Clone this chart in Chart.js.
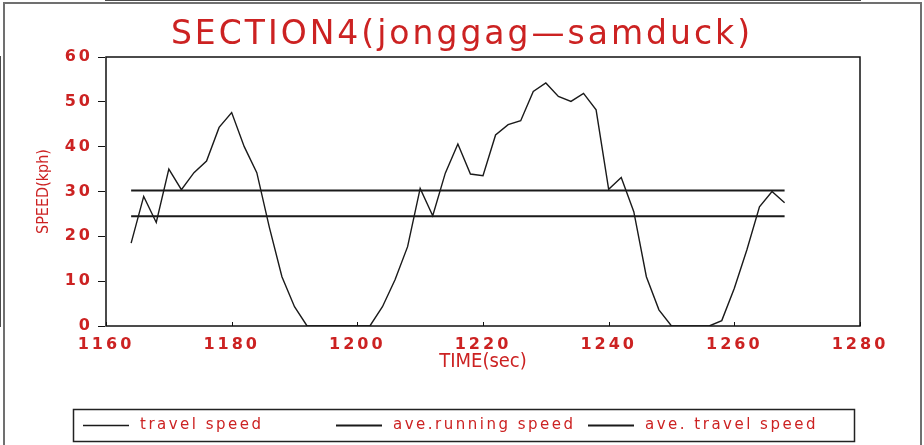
<!DOCTYPE html>
<html>
<head>
<meta charset="utf-8">
<script src="https://cdn.jsdelivr.net/npm/chart.js@4.4.0/dist/chart.umd.min.js"></script>
<style>
  html, body { margin: 0; padding: 0; background: #fff; overflow: hidden; }
  #wrap { width: 924px; height: 445px; position: relative; }
  #frame {
    position: absolute; left: 3px; top: 2px; width: 915px; height: 460px;
    border: 2px solid #707070; pointer-events: none;
  }
</style>
</head>
<body>
<div id="wrap"><canvas id="chart"></canvas><div id="frame"></div></div>
<script>
// --- Data ---
const TIMES = [1164, 1166, 1168, 1170, 1172, 1174, 1176, 1178, 1180, 1182, 1184, 1186, 1188, 1190,
    1192, 1194, 1196, 1198, 1200, 1202, 1204, 1206, 1208, 1210, 1212, 1214, 1216, 1218, 1220, 1222,
    1224, 1226, 1228, 1230, 1232, 1234, 1236, 1238, 1240, 1242, 1244, 1246, 1248, 1250, 1252, 1254,
    1256, 1258, 1260, 1262, 1264, 1266, 1268];
const TRAVEL_SPEED = [18.5, 28.9, 23.1, 35.0, 30.4, 34.2, 36.8, 44.3, 47.6, 40.0, 34.2, 22.0, 11.0, 4.3,
    0, 0, 0, 0, 0, 0, 4.3, 10.3, 17.7, 30.7, 24.6, 34.1, 40.6, 33.9, 33.5, 42.6,
    44.9, 45.8, 52.3, 54.2, 51.2, 50.1, 51.9, 48.2, 30.5, 33.1, 25.5, 11.0, 3.6, 0, 0, 0,
    0, 1.2, 8.4, 17.0, 26.6, 30.0, 27.5];
const AVG_SPAN = [1164, 1268];
const AVE_RUNNING_SPEED = 30.2;
const AVE_TRAVEL_SPEED = 24.5;
const SERIES_LABELS = ['travel speed', 'ave.running speed', 'ave. travel speed'];
const X_RANGE = [1160, 1280];
const Y_RANGE = [0, 60];

const RED = '#cc2222';
const INK = '#1a1a1a';

// letter spacing: wide for ticks/title, none for axis titles (drawn after datasets)
const spacingPlugin = {
    id: 'spacing',
    beforeDraw(chart) { chart.ctx.letterSpacing = '3px'; },
    afterDatasetsDraw(chart) { chart.ctx.letterSpacing = '0px'; }
};

// plot box, inward x ticks and boxed legend
const framePlugin = {
    id: 'frame',
    afterDraw(chart) {
        const ctx = chart.ctx;
        const a = chart.chartArea;
        ctx.save();
        ctx.letterSpacing = '0px';
        ctx.strokeStyle = '#111';
        ctx.lineWidth = 1.5;
        ctx.strokeRect(a.left, a.top, a.right - a.left, a.bottom - a.top);
        const xs = chart.scales.x;
        ctx.lineWidth = 1;
        xs.ticks.forEach(t => {
            const px = Math.round(xs.getPixelForValue(t.value)) + 0.5;
            ctx.beginPath();
            ctx.moveTo(px, a.bottom);
            ctx.lineTo(px, a.bottom - 4);
            ctx.stroke();
        });
        // legend box
        const box = { left: 73, top: 409, right: 854, bottom: 441 };
        ctx.strokeStyle = '#222';
        ctx.lineWidth = 1.5;
        ctx.strokeRect(box.left + 0.5, box.top + 0.5, box.right - box.left, box.bottom - box.top);
        const cols = [10, 263, 515];
        const cy = (box.top + box.bottom) / 2 + 0.5;
        ctx.font = '15px "DejaVu Sans"';
        ctx.letterSpacing = '2.5px';
        ctx.textBaseline = 'middle';
        ctx.textAlign = 'left';
        chart.data.datasets.forEach((ds, i) => {
            const x0 = box.left + cols[i];
            ctx.strokeStyle = ds.borderColor;
            ctx.lineWidth = ds.borderWidth;
            ctx.beginPath();
            ctx.moveTo(x0, cy);
            ctx.lineTo(x0 + 46, cy);
            ctx.stroke();
            ctx.fillStyle = RED;
            ctx.fillText(ds.label, x0 + 57, cy);
        });
        ctx.restore();
    }
};

const travelPoints = TIMES.map((t, i) => ({ x: t, y: TRAVEL_SPEED[i] }));
const runningPoints = AVG_SPAN.map(t => ({ x: t, y: AVE_RUNNING_SPEED }));
const avgTravelPoints = AVG_SPAN.map(t => ({ x: t, y: AVE_TRAVEL_SPEED }));

new Chart(document.getElementById('chart'), {
    type: 'line',
    data: {
        datasets: [
            { label: SERIES_LABELS[0], data: travelPoints, borderColor: INK, borderWidth: 1.4, pointRadius: 0, tension: 0 },
            { label: SERIES_LABELS[1], data: runningPoints, borderColor: INK, borderWidth: 2, pointRadius: 0 },
            { label: SERIES_LABELS[2], data: avgTravelPoints, borderColor: INK, borderWidth: 2, pointRadius: 0 }
        ]
    },
    options: {
        responsive: true,
        maintainAspectRatio: false,
        animation: false,
        layout: { padding: { top: 0, left: 0, right: 0, bottom: 69 } },
        plugins: {
            legend: { display: false },
            tooltip: { enabled: false },
            title: {
                display: true,
                text: 'SECTION4(jonggag—samduck)',
                color: RED,
                font: { family: 'DejaVu Sans', size: 33, weight: 'normal' },
                padding: { top: 16, bottom: 1.4 }
            }
        },
        scales: {
            x: {
                type: 'linear',
                min: X_RANGE[0],
                max: X_RANGE[1],
                afterFit: s => { s.height = 50; },
                grid: { display: false, z: 1 },
                border: { display: true, color: '#111', width: 1.5 },
                ticks: {
                    stepSize: 20,
                    color: RED,
                    padding: 1,
                    maxRotation: 0,
                    font: { family: 'DejaVu Sans', size: 16, weight: 'bold' },
                    callback: v => String(v)
                },
                title: {
                    display: true,
                    text: 'TIME(sec)',
                    color: RED,
                    font: { family: 'DejaVu Sans Condensed', size: 20 },
                    padding: { top: 0, bottom: 2 }
                }
            },
            y: {
                min: Y_RANGE[0],
                max: Y_RANGE[1],
                afterFit: s => { s.width = 106; },
                grid: { display: true, drawOnChartArea: false, drawTicks: true, tickLength: 8, color: '#111', z: 1 },
                border: { display: true, color: '#111', width: 1.5 },
                ticks: {
                    stepSize: 10,
                    color: RED,
                    padding: 5,
                    font: { family: 'DejaVu Sans', size: 16, weight: 'bold' }
                },
                title: {
                    display: true,
                    text: 'SPEED(kph)',
                    color: RED,
                    font: { family: 'DejaVu Sans Condensed', size: 16 },
                    padding: { top: 34.4, bottom: 0 }
                }
            },
            yRight: {
                position: 'right',
                afterFit: s => { s.width = 64; },
                grid: { display: false },
                border: { display: false },
                ticks: { display: false }
            }
        }
    },
    plugins: [spacingPlugin, framePlugin]
});
</script>
</body>
</html>
